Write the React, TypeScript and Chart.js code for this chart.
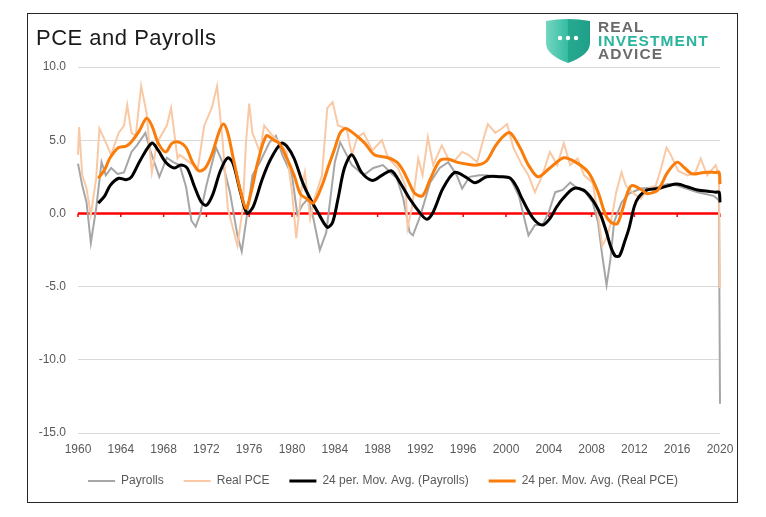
import { useEffect, useRef } from "react";
import { Chart, registerables } from "chart.js";

Chart.register(...registerables);

// ---- data (year, value) ----
const payrollYears = [1960.0, 1960.4, 1960.8, 1961.2, 1961.7, 1962.2, 1962.6, 1963.1, 1963.7, 1964.3, 1965.0, 1965.5, 1966.3, 1966.8, 1967.6, 1968.3, 1968.9, 1969.5, 1970.1, 1970.6, 1971.0, 1971.4, 1972.0, 1972.9, 1973.5, 1974.2, 1974.9, 1975.3, 1975.7, 1976.3, 1977.0, 1977.9, 1978.5, 1979.1, 1979.6, 1980.0, 1980.5, 1981.0, 1981.5, 1982.0, 1982.6, 1983.2, 1984.0, 1984.5, 1985.6, 1986.7, 1987.6, 1988.5, 1989.2, 1989.8, 1990.4, 1991.0, 1991.3, 1992.0, 1992.9, 1993.8, 1994.6, 1995.4, 1995.9, 1996.6, 1997.5, 1998.2, 1999.0, 1999.6, 2000.4, 2001.2, 2001.8, 2002.1, 2002.7, 2003.4, 2004.0, 2004.6, 2005.3, 2006.0, 2006.7, 2007.4, 2008.1, 2008.6, 2009.0, 2009.4, 2009.75, 2010.1, 2010.8, 2011.5, 2012.6, 2014.2, 2015.1, 2016.0, 2017.9, 2019.4, 2019.9, 2020.0];
const payrollValues = [3.4, 1.9, 0.75, -2.0, 0.35, 3.5, 2.6, 3.1, 2.7, 2.8, 4.2, 4.65, 5.5, 4.2, 2.5, 3.8, 3.5, 3.3, 1.8, -0.5, -0.9, -0.1, 1.9, 4.5, 3.5, 1.45, -1.5, -2.6, -0.6, 2.6, 3.5, 4.85, 5.3, 4.0, 3.2, 2.6, -0.1, 0.6, 1.0, -0.35, -2.5, -1.3, 3.5, 4.85, 3.3, 2.6, 3.1, 3.3, 2.8, 2.4, 1.0, -1.3, -1.5, -0.15, 2.1, 3.1, 3.5, 2.6, 1.7, 2.5, 2.6, 2.6, 2.5, 2.5, 2.4, 1.2, -0.6, -1.5, -0.8, -0.8, 0.1, 1.45, 1.6, 2.1, 1.7, 1.45, 0.75, -0.6, -2.9, -4.9, -3.2, -0.6, 0.75, 1.35, 1.7, 1.8, 2.0, 1.9, 1.45, 1.2, 0.9, -13.0];

const pceYears = [1960.0, 1960.1, 1960.4, 1960.8, 1961.2, 1961.7, 1962.0, 1962.6, 1963.1, 1963.8, 1964.3, 1964.6, 1965.0, 1965.4, 1965.9, 1966.4, 1966.9, 1967.4, 1968.3, 1968.7, 1969.3, 1969.5, 1970.4, 1971.2, 1971.8, 1972.5, 1973.0, 1973.5, 1974.0, 1974.4, 1974.9, 1975.4, 1975.7, 1976.0, 1976.3, 1977.0, 1977.4, 1978.2, 1978.8, 1979.5, 1980.0, 1980.4, 1980.9, 1981.2, 1981.7, 1982.1, 1982.8, 1983.3, 1983.8, 1984.3, 1985.1, 1985.6, 1986.1, 1986.7, 1987.5, 1988.4, 1989.0, 1989.9, 1990.6, 1990.8, 1991.2, 1991.8, 1992.2, 1992.7, 1993.2, 1994.0, 1994.6, 1995.2, 1995.9, 1996.5, 1997.3, 1997.9, 1998.3, 1999.0, 1999.6, 2000.1, 2000.7, 2001.5, 2002.1, 2002.7, 2003.4, 2004.1, 2004.8, 2005.4, 2006.0, 2006.7, 2007.3, 2008.1, 2008.6, 2009.0, 2009.5, 2009.8, 2010.3, 2010.8, 2011.2, 2011.8, 2012.6, 2013.3, 2014.0, 2014.5, 2015.0, 2015.4, 2016.1, 2017.0, 2017.7, 2018.2, 2018.8, 2019.6, 2019.9, 2020.0];
const pceValues = [4.0, 5.9, 2.6, 1.7, -0.1, 2.4, 5.8, 4.85, 4.0, 5.5, 6.0, 7.4, 5.5, 5.3, 8.7, 6.9, 2.8, 4.85, 6.0, 7.2, 3.75, 4.0, 3.5, 3.1, 6.0, 7.2, 8.7, 5.1, 0.35, -0.8, -2.2, 0.35, 4.85, 7.5, 5.5, 4.2, 6.0, 5.3, 4.85, 4.2, 1.45, -1.7, 1.7, 2.8, -0.35, 1.0, 2.6, 7.2, 7.6, 6.0, 5.8, 4.0, 5.2, 5.5, 4.3, 5.0, 3.75, 3.1, 1.9, -1.0, 0.35, 3.75, 2.6, 5.2, 3.3, 4.65, 3.75, 3.6, 4.2, 4.0, 3.5, 5.1, 6.1, 5.5, 5.8, 6.1, 4.45, 3.3, 2.6, 1.45, 2.6, 4.2, 3.3, 4.8, 3.3, 3.75, 2.6, 2.1, -0.1, -2.2, -1.5, -0.6, 1.45, 2.8, 1.9, 1.45, 1.0, 1.7, 1.9, 3.1, 4.5, 4.0, 2.9, 2.6, 2.8, 3.75, 2.6, 3.3, 2.6, -5.1];

const payrollMaYears = [1961.9, 1962.5, 1963.0, 1963.8, 1964.5, 1965.0, 1965.8, 1966.9, 1967.5, 1968.2, 1969.0, 1969.6, 1970.2, 1970.9, 1971.5, 1972.0, 1972.6, 1973.3, 1974.0, 1974.5, 1975.2, 1975.8, 1976.4, 1977.2, 1978.0, 1979.0, 1979.5, 1980.2, 1981.0, 1981.7, 1982.4, 1983.3, 1983.8, 1984.3, 1984.9, 1985.6, 1986.5, 1987.5, 1988.4, 1989.3, 1990.1, 1991.0, 1992.0, 1992.6, 1993.2, 1994.1, 1995.2, 1996.2, 1997.1, 1998.2, 1999.6, 2000.4, 2001.0, 2001.5, 2002.5, 2003.4, 2004.1, 2004.7, 2005.3, 2006.3, 2007.2, 2007.8, 2008.4, 2008.9, 2009.4, 2009.8, 2010.2, 2010.6, 2011.1, 2011.5, 2012.0, 2012.4, 2013.2, 2014.3, 2015.2, 2016.0, 2017.0, 2017.9, 2019.0, 2019.6, 2019.92, 2020.0];
const payrollMaValues = [0.7, 1.2, 1.9, 2.4, 2.3, 2.5, 3.6, 4.8, 4.3, 3.5, 3.1, 3.3, 3.1, 1.8, 0.8, 0.55, 1.3, 2.9, 3.8, 3.4, 1.4, 0.0, 0.5, 2.3, 3.7, 4.8, 4.6, 3.75, 2.1, 1.0, 0.1, -0.95, -0.6, 1.0, 3.1, 4.0, 2.8, 2.25, 2.6, 2.9, 2.1, 1.0, 0.0, -0.4, 0.1, 1.7, 2.8, 2.5, 2.1, 2.5, 2.5, 2.4, 1.8, 1.0, -0.3, -0.8, -0.35, 0.4, 1.0, 1.7, 1.6, 1.2, 0.55, -0.2, -1.3, -2.3, -2.9, -2.9, -1.9, -1.0, 0.5, 1.1, 1.6, 1.7, 1.9, 2.0, 1.8, 1.6, 1.5, 1.45, 1.45, 0.75];

const pceMaYears = [1961.9, 1962.5, 1963.0, 1963.8, 1964.5, 1965.0, 1965.7, 1966.4, 1966.9, 1967.5, 1968.2, 1968.8, 1969.5, 1970.1, 1970.7, 1971.3, 1971.9, 1972.5, 1973.2, 1973.6, 1974.0, 1974.5, 1975.1, 1975.7, 1976.2, 1976.8, 1977.6, 1978.3, 1978.8, 1979.5, 1980.2, 1980.8, 1981.4, 1982.0, 1982.8, 1983.4, 1984.0, 1984.5, 1985.0, 1985.7, 1986.8, 1987.7, 1989.0, 1989.8, 1990.4, 1991.0, 1991.5, 1992.2, 1992.9, 1993.8, 1994.6, 1995.4, 1996.4, 1997.3, 1998.2, 1999.0, 1999.8, 2000.4, 2001.3, 2002.1, 2003.0, 2004.1, 2005.4, 2006.5, 2007.7, 2008.6, 2009.3, 2009.8, 2010.4, 2010.9, 2011.4, 2011.8, 2012.7, 2013.2, 2014.2, 2015.1, 2016.0, 2016.7, 2017.4, 2018.5, 2019.6, 2019.92, 2020.0];
const pceMaValues = [2.4, 3.0, 3.8, 4.5, 4.6, 4.9, 5.6, 6.5, 6.0, 4.8, 4.2, 4.8, 4.85, 4.5, 3.5, 2.9, 3.1, 4.0, 5.6, 6.1, 5.5, 3.8, 1.8, 0.35, 1.5, 3.5, 5.3, 5.0, 4.8, 3.8, 2.6, 1.3, 1.0, 0.7, 1.9, 3.2, 4.45, 5.5, 5.8, 5.5, 4.8, 4.0, 3.8, 3.5, 2.9, 2.0, 1.35, 1.2, 2.3, 3.6, 3.7, 3.5, 3.35, 3.3, 3.6, 4.6, 5.3, 5.5, 4.5, 3.3, 2.5, 3.1, 3.8, 3.5, 2.8, 1.45, -0.1, -0.6, -0.7, 0.3, 1.5, 1.9, 1.6, 1.35, 1.6, 2.8, 3.5, 3.1, 2.7, 2.8, 2.8, 2.8, 2.0];

const seriesLabels = ["Payrolls", "Real PCE", "24 per. Mov. Avg. (Payrolls)", "24 per. Mov. Avg. (Real PCE)"];
const seriesColors = ["#a6a6a6", "#f9c9a6", "#000000", "#fa7c0a"];
const seriesWidths = [2, 2, 3, 3];

const yMin = -15;
const yMax = 10;
const yStep = 5;
const xMin = 1960;
const xMax = 2020;
const xStep = 4;

const toPoints = (xs: number[], ys: number[]) => xs.map((x, i) => ({ x, y: ys[i] }));

const zeroLinePlugin = {
  id: "zeroLine",
  beforeDatasetsDraw(chart: any) {
    const { ctx, chartArea, scales } = chart;
    const y = scales.y.getPixelForValue(0);
    ctx.save();
    ctx.strokeStyle = "#ff0000";
    ctx.lineWidth = 2.5;
    ctx.beginPath();
    ctx.moveTo(chartArea.left, y);
    ctx.lineTo(chartArea.right, y);
    ctx.stroke();
    ctx.lineWidth = 1.5;
    ctx.beginPath();
    for (const t of scales.x.ticks) {
      const x = scales.x.getPixelForValue(t.value);
      ctx.moveTo(x, y);
      ctx.lineTo(x, y + 3.5);
    }
    ctx.stroke();
    ctx.restore();
  },
};

const FONT = "'Liberation Sans', Arial, sans-serif";

export default function App() {
  const canvasRef = useRef<HTMLCanvasElement | null>(null);

  useEffect(() => {
    if (!canvasRef.current) return;
    const datasets = [
      toPoints(payrollYears, payrollValues),
      toPoints(pceYears, pceValues),
      toPoints(payrollMaYears, payrollMaValues),
      toPoints(pceMaYears, pceMaValues),
    ].map((data, i) => ({
      label: seriesLabels[i],
      data,
      borderColor: seriesColors[i],
      backgroundColor: seriesColors[i],
      borderWidth: seriesWidths[i],
      pointRadius: 0,
      tension: i >= 2 ? 0.3 : 0,
      order: 4 - i,
      clip: 4,
      yAxisID: "y",
      xAxisID: "x",
    }));

    const chart = new Chart(canvasRef.current, {
      type: "line",
      data: { datasets },
      options: {
        responsive: false,
        maintainAspectRatio: false,
        animation: false,
        layout: { padding: { left: 23, right: 23, top: 67, bottom: 20 } },
        plugins: {
          tooltip: { enabled: false },
          title: { display: false },
          legend: {
            display: true,
            position: "bottom",
            labels: {
              usePointStyle: true,
              pointStyleWidth: 27,
              padding: 20,
              color: "#595959",
              font: { family: FONT, size: 12 },
              generateLabels: () =>
                seriesLabels.map((text, i) => ({
                  text,
                  fillStyle: seriesColors[i],
                  strokeStyle: seriesColors[i],
                  lineWidth: seriesWidths[i],
                  pointStyle: "line",
                  hidden: false,
                  datasetIndex: i,
                  fontColor: "#595959",
                })),
            },
          },
        },
        scales: {
          x: {
            type: "linear",
            min: xMin,
            max: xMax,
            grid: { display: false, drawTicks: false },
            border: { display: false },
            ticks: {
              stepSize: xStep,
              autoSkip: false,
              maxRotation: 0,
              padding: 9,
              color: "#595959",
              font: { family: FONT, size: 12 },
              callback: (v: any) => String(v),
            },
            afterFit: (s: any) => {
              s.height = 22;
            },
          },
          y: {
            type: "linear",
            position: "left",
            min: yMin,
            max: yMax,
            grid: { color: "#d9d9d9", lineWidth: 1, drawTicks: false },
            border: { display: false },
            ticks: {
              stepSize: yStep,
              padding: 12,
              color: "#595959",
              font: { family: FONT, size: 12 },
              callback: (v: any) => Number(v).toFixed(1),
            },
            afterFit: (s: any) => {
              s.width = 55;
            },
          },
          y2: {
            type: "linear",
            position: "right",
            display: true,
            grid: { display: false, drawTicks: false },
            border: { display: false },
            ticks: { display: false },
            afterFit: (s: any) => {
              s.width = 23;
            },
          },
        },
      },
      plugins: [zeroLinePlugin],
    } as any);
    return () => chart.destroy();
  }, []);

  return (
    <div style={{ position: "absolute", left: 0, top: 0, width: 766, height: 517, background: "#fff", overflow: "hidden" }}>
      <canvas ref={canvasRef} width={766} height={517} style={{ position: "absolute", left: 0, top: 0, width: 766, height: 517, display: "block" }} />
      <div style={{ position: "absolute", left: 27, top: 13, width: 709, height: 488, border: "1px solid #262626", pointerEvents: "none" }} />
      <div style={{ position: "absolute", left: 36, top: 26, fontFamily: FONT, fontSize: 22, letterSpacing: 0.5, lineHeight: "24px", color: "#1a1a1a", whiteSpace: "nowrap" }}>
        PCE and Payrolls
      </div>
      <svg style={{ position: "absolute", left: 545, top: 18 }} width={46} height={46} viewBox="0 0 46 46">
        <defs>
          <linearGradient id="shieldGrad" x1="0" y1="0" x2="1" y2="0">
            <stop offset="0" stopColor="#74d6c1" />
            <stop offset="0.5" stopColor="#35bca3" />
            <stop offset="0.5" stopColor="#27a990" />
            <stop offset="1" stopColor="#1f9f88" />
          </linearGradient>
        </defs>
        <path d="M1,3 Q23,-1 45,3 L45,25 Q45,37 23,45 Q1,37 1,25 Z" fill="url(#shieldGrad)" />
        <circle cx="15" cy="20" r="2.2" fill="#fff" />
        <circle cx="23" cy="20" r="2.2" fill="#fff" />
        <circle cx="31" cy="20" r="2.2" fill="#fff" />
      </svg>
      <div style={{ position: "absolute", left: 598, top: 20, fontFamily: FONT, fontWeight: 700, fontSize: 15.5, letterSpacing: 1.1, lineHeight: "13.5px", whiteSpace: "nowrap" }}>
        <div style={{ color: "#6b6b6b" }}>REAL</div>
        <div style={{ color: "#2bb39c" }}>INVESTMENT</div>
        <div style={{ color: "#6b6b6b" }}>ADVICE</div>
      </div>
    </div>
  );
}
